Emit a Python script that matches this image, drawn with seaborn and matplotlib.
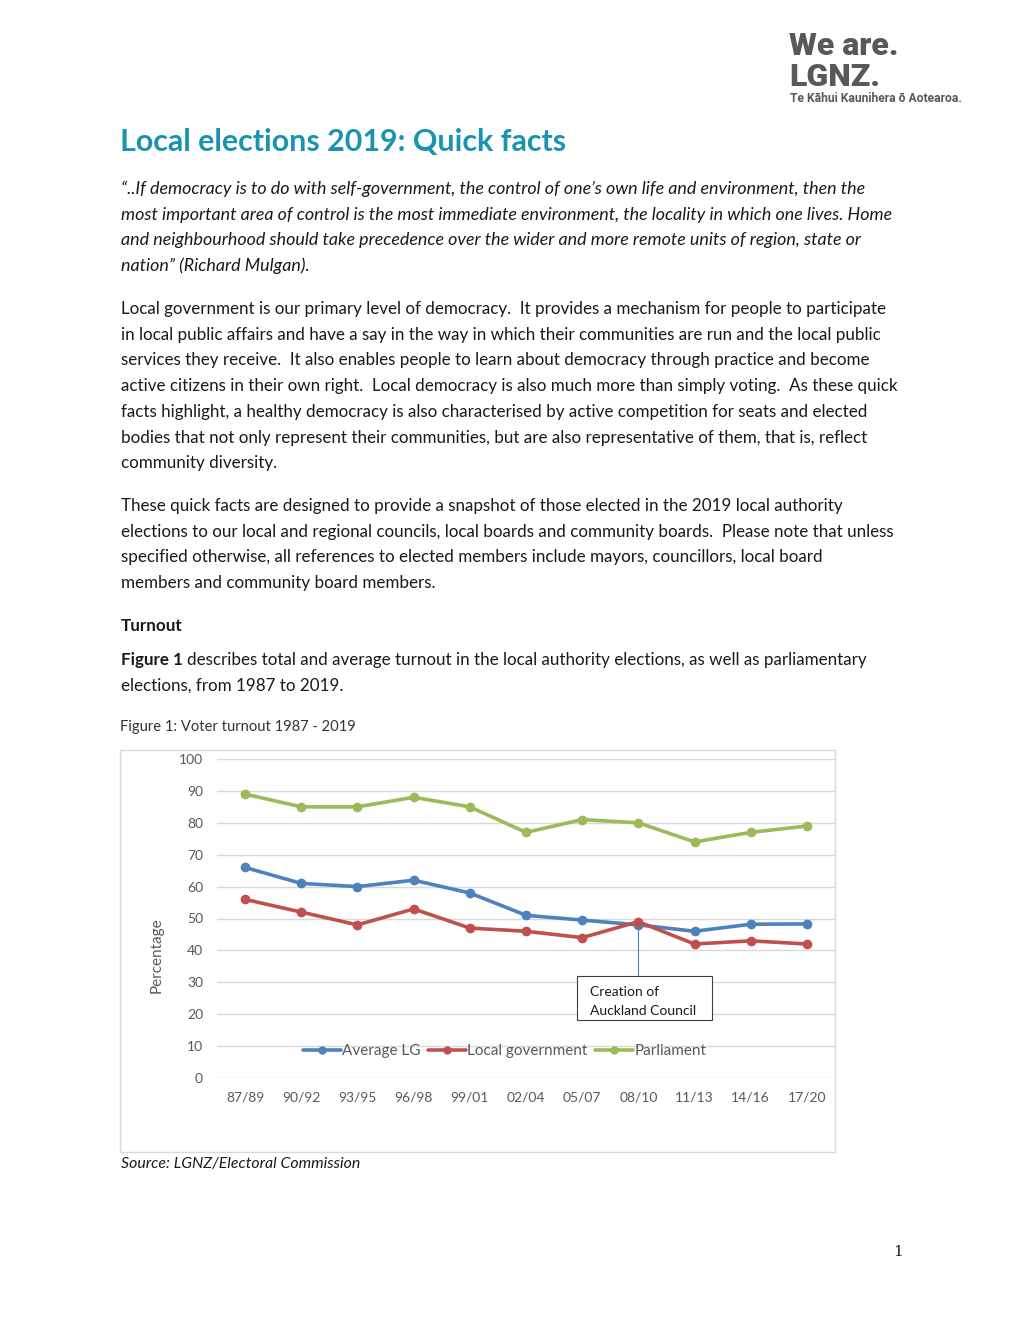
import matplotlib
matplotlib.use("Agg")
import matplotlib.pyplot as plt
import matplotlib.patches as mpatches
from matplotlib.lines import Line2D
import pandas as pd
import seaborn as sns

periods = ["87/89", "90/92", "93/95", "96/98", "99/01", "02/04",
           "05/07", "08/10", "11/13", "14/16", "17/20"]
average_lg = [66, 61, 60, 62, 58, 51, 49.5, 48, 46, 48.2, 48.3]
local_gov = [56, 52, 48, 53, 47, 46, 44, 49, 42, 43, 42]
parliament = [89, 85, 85, 88, 85, 77, 81, 80, 74, 77, 79]
series_names = ["Average LG", "Local government", "Parliament"]
colors = ["#4F81BD", "#C0504D", "#9BBB59"]

W, H = 1020, 1320
BODY = "Lato"
TXT = "#1a1a1a"

sns.set_theme(style="white")
plt.rcParams["font.family"] = [BODY, "DejaVu Sans"]

fig = plt.figure(figsize=(W / 100, H / 100), dpi=100)


def put(x, y, s, **kw):
    kw.setdefault("color", TXT)
    kw.setdefault("fontsize", 12.25)
    kw.setdefault("va", "center")
    return fig.text(x / W, 1 - y / H, s, **kw)


# logo
put(789, 46, "We are.", fontsize=23, fontweight="heavy", color="#58595B", family="Roboto")
put(789, 77, "LGNZ.", fontsize=23, fontweight="heavy", color="#58595B", family="Roboto")
put(790, 99, "Te Kāhui Kaunihera ō Aotearoa.", fontsize=8.7, fontweight="bold",
    color="#58595B", family="Roboto")

put(120, 142, "Local elections 2019: Quick facts", fontsize=21.9, fontweight="bold",
    color="#1A93B0")

quote = [
    "“..If democracy is to do with self-government, the control of one’s own life and environment, then the",
    "most important area of control is the most immediate environment, the locality in which one lives. Home",
    "and neighbourhood should take precedence over the wider and more remote units of region, state or",
    "nation” (Richard Mulgan).",
]
for i, line in enumerate(quote):
    put(121, 189 + i * 25.7, line, style="italic", fontsize=12.9)

para2 = [
    "Local government is our primary level of democracy.  It provides a mechanism for people to participate",
    "in local public affairs and have a say in the way in which their communities are run and the local public",
    "services they receive.  It also enables people to learn about democracy through practice and become",
    "active citizens in their own right.  Local democracy is also much more than simply voting.  As these quick",
    "facts highlight, a healthy democracy is also characterised by active competition for seats and elected",
    "bodies that not only represent their communities, but are also representative of them, that is, reflect",
    "community diversity.",
]
for i, line in enumerate(para2):
    put(121, 309 + i * 25.7, line)

para3 = [
    "These quick facts are designed to provide a snapshot of those elected in the 2019 local authority",
    "elections to our local and regional councils, local boards and community boards.  Please note that unless",
    "specified otherwise, all references to elected members include mayors, councillors, local board",
    "members and community board members.",
]
for i, line in enumerate(para3):
    put(121, 506 + i * 25.7, line)

put(121, 626, "Turnout", fontweight="bold")
t = put(121, 660, "Figure 1", fontweight="bold")
fig.canvas.draw()
bb = t.get_window_extent()
put(bb.x1 + 4, 660, "describes total and average turnout in the local authority elections, as well as parliamentary")
put(121, 686, "elections, from 1987 to 2019.")

put(120, 727, "Figure 1: Voter turnout 1987 - 2019", fontsize=10.6, color="#333333")
put(121, 1164, "Source: LGNZ/Electoral Commission", style="italic", fontsize=11.4)
put(893, 1252, "1", fontsize=11, family="DejaVu Serif")

# chart frame
fig.patches.append(mpatches.Rectangle((120 / W, 1 - 1152 / H), 715 / W, 402 / H,
                                      transform=fig.transFigure, fill=False,
                                      edgecolor="#D9D9D9", linewidth=1))

ax = fig.add_axes([217 / W, 1 - 1078 / H, 618 / W, 319 / H])

df = pd.DataFrame({
    "Period": periods * 3,
    "Value": average_lg + local_gov + parliament,
    "Series": [s for s in series_names for _ in periods],
})
sns.lineplot(data=df, x="Period", y="Value", hue="Series", palette=colors,
             marker="o", markersize=7, markeredgewidth=0, linewidth=2.6,
             sort=False, ax=ax, legend=False)

ax.set_xlim(-0.5, len(periods) - 0.5)
ax.set_ylim(0, 100)
ax.set_yticks(range(0, 101, 10))
ax.yaxis.grid(True, color="#D9D9D9", linewidth=1)
ax.set_axisbelow(True)
for sp in ax.spines.values():
    sp.set_visible(False)
ax.tick_params(axis="both", length=0, labelsize=10, labelcolor="#595959")
ax.tick_params(axis="y", pad=10)
ax.tick_params(axis="x", pad=10)
ax.set_xlabel("")
ax.set_ylabel("Percentage", fontsize=11, color="#595959")
ax.yaxis.set_label_coords(-0.087, 0.385)

# annotation
ax.plot([7, 7], [local_gov[7], 32], color="#4F81BD", linewidth=0.8, zorder=1)
ax.add_patch(mpatches.Rectangle((5.906, 18.2), 2.40, 13.8, facecolor="white",
                                edgecolor="#404040", linewidth=0.8, zorder=3))
ax.text(6.14, 27.0, "Creation of", fontsize=10, color="#1a1a1a", va="center", zorder=4)
ax.text(6.14, 21.0, "Auckland Council", fontsize=10, color="#1a1a1a", va="center", zorder=4)

handles = [Line2D([], [], color=c, marker="o", markersize=6, markeredgewidth=0,
                  linewidth=2.6) for c in colors]
ax.legend(handles, series_names, loc="center", bbox_to_anchor=(0.465, 0.085),
          ncol=3, frameon=False, fontsize=11, handlelength=2.5,
          handletextpad=0.1, columnspacing=0.45, labelcolor="#595959")

fig.savefig("out.png", dpi=100, facecolor="white")
